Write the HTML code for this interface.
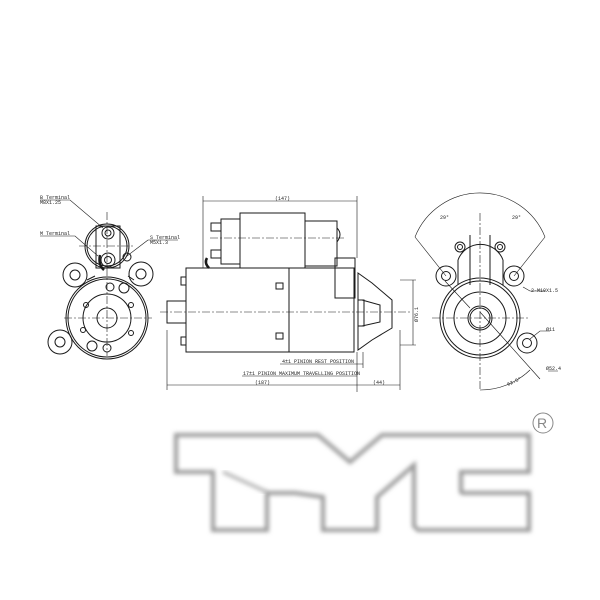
<!DOCTYPE html>
<html><head><meta charset="utf-8"><style>
html,body{margin:0;padding:0;background:#fff;}
svg{display:block;}
text{font-family:"Liberation Mono",monospace;fill:#222;}
</style></head><body>
<svg width="600" height="600" viewBox="0 0 600 600" xmlns="http://www.w3.org/2000/svg">
<defs>
<filter id="bl" x="-10%" y="-10%" width="120%" height="120%"><feGaussianBlur stdDeviation="2"/></filter>
</defs>
<g fill="none" stroke="#1a1a1a" stroke-width="1">
<circle cx="107" cy="318" r="41"/>
<circle cx="107" cy="318" r="39"/>
<circle cx="107" cy="318" r="24"/>
<circle cx="107" cy="318" r="10"/>
<circle cx="107" cy="246" r="22"/>
<circle cx="107" cy="246" r="20"/>
<circle cx="108" cy="233" r="6"/><circle cx="108" cy="233" r="3"/>
<circle cx="108" cy="260" r="7"/><circle cx="108" cy="260" r="3.5"/>
<circle cx="127" cy="257" r="4"/>
<rect x="96" y="226" width="24" height="42"/>
<path d="M100 255 q-2 10 4 15" stroke-width="2.5"/>
<circle cx="75" cy="275" r="12"/><circle cx="75" cy="275" r="5"/>
<circle cx="141" cy="274" r="12"/><circle cx="141" cy="274" r="5"/>
<circle cx="60" cy="342" r="12"/><circle cx="60" cy="342" r="5"/>
<circle cx="110" cy="287" r="4"/><circle cx="124" cy="288" r="5"/>
<circle cx="92" cy="346" r="5"/><circle cx="107" cy="348" r="4"/>
<circle cx="86" cy="305" r="2.5"/><circle cx="131" cy="305" r="2.5"/><circle cx="131" cy="333" r="2.5"/><circle cx="83" cy="330" r="2.5"/>
<path d="M87 280 L95 276 M128 276 L134 280"/>
<path d="M64 318 H152 M107 212 V356 M79 246 H134" stroke-dasharray="8 2 2 2" stroke-width="0.6"/>
<path d="M40 200 H70 L103 228 M40 236 H75 L98 256 M148 240 H178 M148 240 L127 256" stroke-width="0.6"/>
<rect x="186" y="268" width="168" height="84"/>
<line x1="289" y1="268" x2="289" y2="352"/>
<rect x="167" y="301" width="19" height="22"/>
<rect x="240" y="213" width="65" height="55"/>
<rect x="305" y="221" width="32" height="45"/>
<path d="M337 228 q6 6 0 14"/>
<rect x="221" y="219" width="19" height="45"/>
<rect x="211" y="223" width="10" height="8"/>
<rect x="211" y="250" width="10" height="8"/>
<path d="M207 258 q-3 5 2 10" stroke-width="2.5"/>
<rect x="276" y="283" width="7" height="6"/><rect x="276" y="333" width="7" height="6"/>
<rect x="181" y="277" width="5" height="8"/><rect x="181" y="337" width="5" height="8"/>
<rect x="335" y="258" width="20" height="40"/>
<path d="M354 272 V352 M358 273 L372 283 L392 300 L392 328 L372 340 L358 350 Z"/>
<path d="M362 300 L380 305 L380 322 L362 326"/>
<rect x="358" y="300" width="6" height="26"/>
<path d="M160 312 H410 M210 238 H345" stroke-dasharray="8 2 2 2" stroke-width="0.6"/>
<path d="M203 201 H357 M203 196 V268 M357 196 V258" stroke-width="0.6"/>
<path d="M280 364 H363 M242 376 H357 M167 385 H357 M357 385 H400 M167 330 V390 M357 352 V392 M363 352 V368 M400 330 V390" stroke-width="0.6"/>
<path d="M413 280 V345 M400 280 H416 M400 345 H416" stroke-width="0.6"/>
<circle cx="480" cy="318" r="40"/>
<circle cx="480" cy="318" r="37"/>
<circle cx="480" cy="318" r="26"/>
<circle cx="480" cy="318" r="12"/>
<circle cx="480" cy="318" r="10"/>
<path d="M458 260 A24 24 0 0 1 503 260"/>
<path d="M458 260 V285 M503 260 V285 M470 235 V285 M490 235 V285"/>
<circle cx="460" cy="247" r="5"/><circle cx="460" cy="247" r="2.5"/>
<circle cx="500" cy="247" r="5"/><circle cx="500" cy="247" r="2.5"/>
<circle cx="446" cy="276" r="10"/><circle cx="446" cy="276" r="4.5"/>
<circle cx="514" cy="276" r="10"/><circle cx="514" cy="276" r="4.5"/>
<circle cx="527" cy="343" r="10"/><circle cx="527" cy="343" r="4.5"/>
<path d="M480 312 L540 379 M445 281 L470 308" stroke-width="0.6"/>
<path d="M480 213 V390 M432 318 H528" stroke-dasharray="8 2 2 2" stroke-width="0.6"/>
<path d="M415 237 A70 70 0 0 1 545 237 M415 237 L446 276 M545 237 L514 276" stroke-width="0.6"/>
<path d="M480 390 A72 72 0 0 0 530 370" stroke-width="0.6"/>
<path d="M523 287 L530 291 H545 M530 339 L540 331 H550 M548 371 H558" stroke-width="0.6"/>
</g>
<g font-size="5">
<text x="40" y="199">B Terminal</text><text x="40" y="204">M8X1.25</text>
<text x="40" y="235">M Terminal</text>
<text x="150" y="239">S Terminal</text><text x="150" y="244">M5X1.3</text>
<text x="275" y="200">(147)</text>
<text x="282" y="363">4±1 PINION REST POSITION</text>
<text x="243" y="375">17±1 PINION MAXIMUM TRAVELLING POSITION</text>
<text x="255" y="384">(187)</text><text x="373" y="384">(44)</text>
<text x="0" y="0" transform="translate(418 322) rotate(-90)">Ø76.1</text>
<text x="440" y="219">29°</text><text x="512" y="219">29°</text>
<text x="531" y="292">2-M10X1.5</text>
<text x="546" y="331">Ø11</text><text x="546" y="370">Ø52.4</text>
<text x="508" y="386" transform="rotate(-25 508 386)">62.5°</text>
</g>
<path d="M176 435 H318 L350 462 L382 435 H529 V472 H461 V491 Q461 493 463 493 H529 V530 H418 L414 526 V465 L377 497 V530 H323 V497 L295 493 H267 V530 H213 V472 H176 Z" fill="none" stroke="#999" stroke-width="4" filter="url(#bl)"/>
<path d="M223 472 L267 492" fill="none" stroke="#aaa" stroke-width="3" filter="url(#bl)"/>
<circle cx="543" cy="423" r="10" fill="none" stroke="#888" stroke-width="1"/>
<text x="537" y="428" font-size="14" style="font-family:'Liberation Sans',sans-serif;fill:#888">R</text>
</svg>
</body></html>
